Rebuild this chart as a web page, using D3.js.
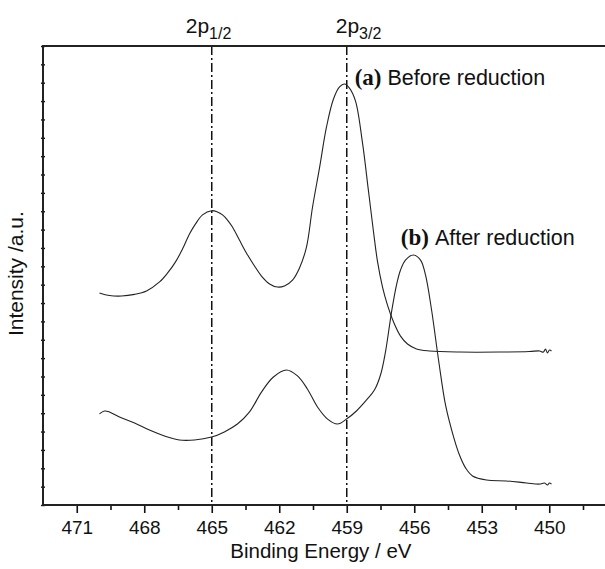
<!DOCTYPE html>
<html>
<head>
<meta charset="utf-8">
<script src="https://cdn.jsdelivr.net/npm/d3@7"></script>
<style>
  body { margin: 0; background: #fff; }
  text { font-family: "Liberation Sans", Arial, Helvetica, sans-serif; fill: #111; }
</style>
</head>
<body>
<svg id="chart"></svg>
<script>
// binding energy (eV) and intensity (a.u.)
const energyA = [469.99, 469.55, 469.01, 468.43, 467.90, 467.32, 466.96, 466.61, 466.30, 465.99, 465.72, 465.41, 465.01,
  464.75, 464.52, 464.30, 464.08, 463.77, 463.46, 463.10, 462.79, 462.43, 462.08, 461.77, 461.41, 461.10, 460.79,
  460.52, 460.21, 459.90, 459.59, 459.32, 459.10, 458.88, 458.61, 458.30, 458.04, 457.81, 457.63, 457.41, 457.19,
  456.92, 456.61, 456.30, 455.90, 455.32, 453.99, 452.21, 450.88, 450.43, 450.26, 450.17, 450.08, 449.99, 449.90];
const intensityA = [11.55, 11.41, 11.38, 11.47, 11.66, 12.15, 12.64, 13.24, 13.94, 14.76, 15.31, 15.80, 16.03,
  15.96, 15.80, 15.52, 15.14, 14.43, 13.73, 13.02, 12.47, 12.04, 11.87, 11.93, 12.25, 12.91, 14.05,
  16.23, 18.36, 20.59, 22.11, 22.77, 22.93, 22.71, 22.00, 19.72, 17.16, 14.87, 13.24, 11.87, 10.89,
  9.97, 9.20, 8.77, 8.50, 8.39, 8.33, 8.33, 8.36, 8.39, 8.33, 8.50, 8.28, 8.44, 8.39];

const energyB = [469.99, 469.77, 469.55, 469.10, 468.43, 467.77, 467.10, 466.44, 465.77, 465.01, 464.44, 463.86,
  463.32, 462.79, 462.26, 461.68, 461.19, 460.75, 460.30, 459.85, 459.41, 459.01, 458.57, 458.12, 457.77,
  457.50, 457.28, 457.01, 456.79, 456.61, 456.39, 456.04, 455.72, 455.50, 455.23, 454.92, 454.61, 454.30,
  453.99, 453.72, 453.41, 452.79, 451.90, 451.01, 450.43, 450.21, 450.08, 449.99, 449.90];
const intensityB = [4.96, 5.12, 5.07, 4.79, 4.47, 4.08, 3.76, 3.54, 3.54, 3.70, 3.98, 4.41,
  5.07, 6.15, 6.97, 7.35, 7.03, 6.32, 5.34, 4.68, 4.41, 4.68, 5.12, 5.72, 6.26,
  7.08, 8.33, 10.51, 11.98, 12.80, 13.34, 13.62, 13.34, 12.53, 10.62, 7.90, 5.45, 3.92,
  2.72, 2.02, 1.58, 1.36, 1.31, 1.20, 1.14, 1.20, 1.09, 1.20, 1.14];

const xTickValues = [471, 468, 465, 462, 459, 456, 453, 450];
const peakLines = [465, 459];
const peakNames = [["2p", "1/2"], ["2p", "3/2"]];

// set the dimensions and margins of the graph
var margin = {top: 46, right: 0, bottom: 64, left: 43},
    width = 605 - margin.left - margin.right,
    height = 569 - margin.top - margin.bottom;

const svg = d3.select("#chart").attr("width", 605).attr("height", 569);
const g = svg.append("g").attr("transform", `translate(${margin.left},${margin.top})`);

const x = d3.scaleLinear().domain([472.5, 447.5]).range([0, width + 0.5]);
const y = d3.scaleLinear().domain([0, 25]).range([height, 0]);

// dash-dot reference lines
g.selectAll(".peak")
  .data(peakLines)
  .join("line")
    .attr("x1", d => x(d)).attr("x2", d => x(d))
    .attr("y1", 0).attr("y2", height)
    .attr("stroke", "#111")
    .attr("stroke-width", 1.5)
    .attr("stroke-dasharray", "9,3,2,3");

// spectra
const line = d3.line()
  .x(d => x(d[0]))
  .y(d => y(d[1]))
  .curve(d3.curveCatmullRom.alpha(0.5));

[[energyA, intensityA], [energyB, intensityB]].forEach(function (s) {
  g.append("path")
    .datum(d3.zip(s[0], s[1]))
    .attr("d", line)
    .attr("fill", "none")
    .attr("stroke", "#222")
    .attr("stroke-width", 1.1);
});

// x axis: major + minor ticks
const xMajor = g.append("g")
  .attr("transform", `translate(0,${height})`)
  .call(d3.axisBottom(x).tickValues(xTickValues).tickSize(8).tickPadding(8).tickFormat(d3.format("d")));
xMajor.select(".domain").remove();
xMajor.selectAll("line").attr("stroke", "#111").attr("stroke-width", 1.6);
xMajor.selectAll("text").style("font-size", "19px").attr("fill", "#111");

const xMinor = g.append("g")
  .attr("transform", `translate(0,${height})`)
  .call(d3.axisBottom(x).tickValues(d3.range(469.5, 447.5, -3)).tickSize(5).tickFormat(""));
xMinor.select(".domain").remove();
xMinor.selectAll("line").attr("stroke", "#111").attr("stroke-width", 1.6);

// y axis: tiny unlabelled ticks
const yAxis = g.append("g")
  .attr("transform", "translate(2,0)")
  .call(d3.axisLeft(y).tickValues(d3.range(0, 26)).tickSize(4).tickFormat(""));
yAxis.select(".domain").remove();
yAxis.selectAll("line").attr("stroke", "#111").attr("stroke-width", 1.4);

// frame: left, bottom, top
g.append("path")
  .attr("d", `M${width + 1},0H0V${height}H${width + 1}`)
  .attr("fill", "none")
  .attr("stroke", "#222")
  .attr("stroke-width", 2);

// peak names above the frame
const pn = g.selectAll(".pname")
  .data(peakLines)
  .join("text")
    .attr("x", (d, i) => x(d) + (i === 0 ? -26 : -11))
    .attr("y", -13)
    .style("font-size", "21px");
pn.append("tspan").text((d, i) => peakNames[i][0]);
pn.append("tspan").attr("dy", 6).style("font-size", "16px").text((d, i) => peakNames[i][1]);

// curve labels
function label(xp, yp, tag, txt) {
  const t = g.append("text").attr("x", xp).attr("y", yp).style("font-size", "21.5px");
  t.append("tspan")
    .style("font-family", "'Liberation Serif', 'Times New Roman', serif")
    .style("font-weight", "bold")
    .style("font-size", "23px")
    .text(tag);
  t.append("tspan").attr("dx", 6).text(txt);
}
label(x(458.65), 39, "(a)", "Before reduction");
label(x(456.6), 199, "(b)", "After reduction");

// axis titles
g.append("text")
  .attr("x", x(460.15))
  .attr("y", height + 53)
  .attr("text-anchor", "middle")
  .style("font-size", "20.5px")
  .text("Binding Energy / eV");

g.append("text")
  .attr("transform", `translate(-20,${y(12.6)}) rotate(-90)`)
  .attr("text-anchor", "middle")
  .style("font-size", "21px")
  .text("Intensity /a.u.");
</script>
</body>
</html>
